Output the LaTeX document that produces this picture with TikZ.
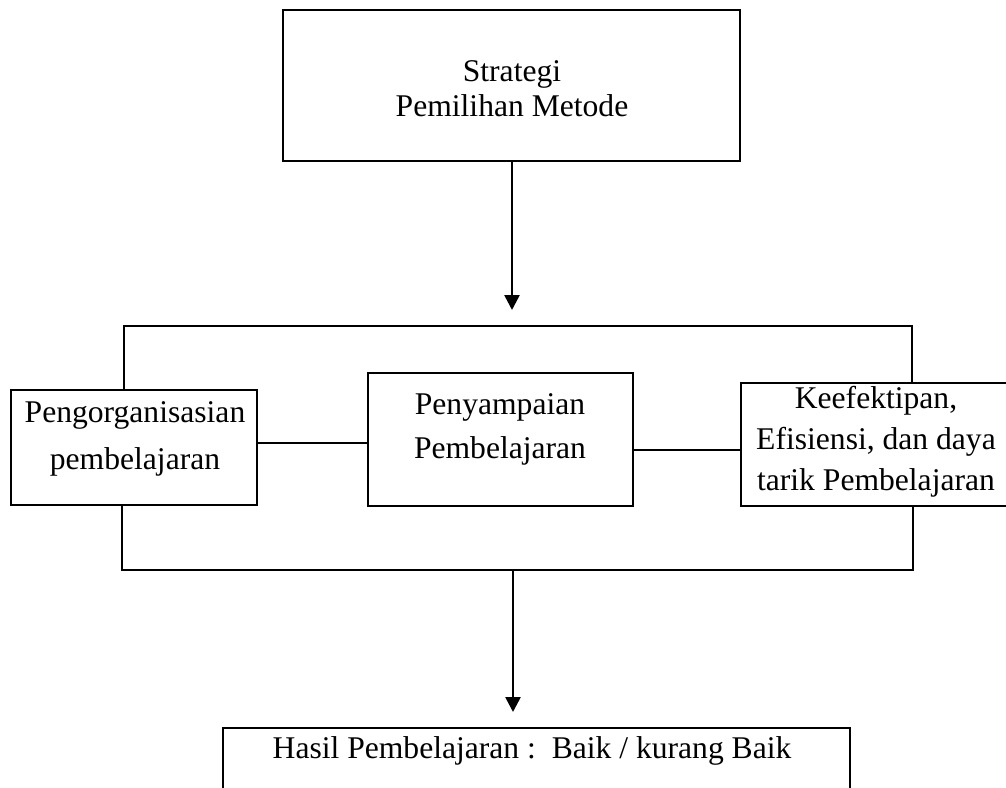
\documentclass[tikz,border=0pt]{standalone}
\usepackage{fontspec}
\setmainfont{Liberation Serif}
\usetikzlibrary{arrows.meta}
\begin{document}
\begin{tikzpicture}[x=0.5pt,y=-0.5pt,
  box/.style={draw,line width=1.1pt,rectangle,inner sep=0pt,outer sep=0pt},
  txt/.style={anchor=base,inner sep=0pt,font=\fontsize{15.8pt}{19pt}\selectfont},
  conn/.style={line width=1.1pt},
  arr/.style={line width=1.3pt,-{Triangle[width=7.5pt,length=7.5pt]}}]
\useasboundingbox (0,0) rectangle (1006,787);
\clip (0,0) rectangle (1006,787);
% boxes
\node[box,minimum width=228.5pt,minimum height=75.5pt] (T) at (511.5,85.5) {};
\node[box,minimum width=123pt,minimum height=57.5pt] (L) at (134,447.5) {};
\node[box,minimum width=132.5pt,minimum height=66.5pt] (M) at (500.5,439.5) {};
\node[box,minimum width=135pt,minimum height=61.5pt] (R) at (876,444.5) {};
\node[box,minimum width=313.5pt,minimum height=51pt] (B) at (536.5,779) {};
% texts
\node[txt] (t1) at (512,81) {Strategi};
\node[txt] (t2) at (512,116) {Pemilihan Metode};
\node[txt] (l1) at (135,422) {Pengorganisasian};
\node[txt] (l2) at (135,469) {pembelajaran};
\node[txt] (m1) at (500,414) {Penyampaian};
\node[txt] (m2) at (500,458) {Pembelajaran};
\node[txt] (r1) at (876,408) {Keefektipan,};
\node[txt] (r2) at (876,449) {Efisiensi, dan daya};
\node[txt] (r3) at (876,490) {tarik Pembelajaran};
\node[txt] (b1) at (532,758) {Hasil Pembelajaran :~~Baik / kurang Baik};
% bracket coordinates
\coordinate (tl) at (124,326);
\coordinate (tr) at (912,326);
\coordinate (bl) at (122,570);
\coordinate (br) at (913,570);
\coordinate (bm) at (513,570);
\coordinate (tip1) at (512,310);
\coordinate (tip2) at (513,712);
\coordinate (c1) at (300,443);
\coordinate (c2) at (700,450);
% connectors
\draw[arr] (T.south -| tip1) -- (tip1);
\draw[conn] (L.north -| tl) -- (tl) -- (tr) -- (R.north -| tr);
\draw[conn] (L.south -| bl) -- (bl) -- (br) -- (R.south -| br);
\draw[conn] (L.east |- c1) -- (M.west |- c1);
\draw[conn] (M.east |- c2) -- (R.west |- c2);
\draw[arr] (bm) -- (tip2);
\end{tikzpicture}
\end{document}
